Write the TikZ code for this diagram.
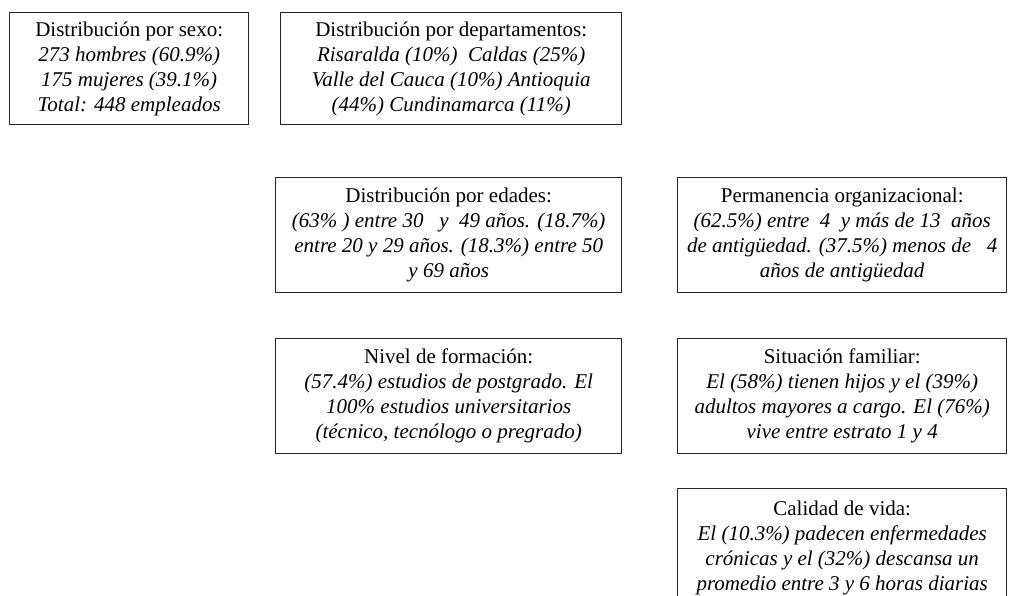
\documentclass[tikz,border=0pt]{standalone}
\usepackage{fontspec}
\setmainfont{Liberation Serif}
\begin{document}
\begin{tikzpicture}[x=1pt,y=-1pt,
  box/.style={draw=black!85,line width=1.4pt,inner sep=0pt,align=center,
    font=\fontsize{21}{25}\selectfont,anchor=north west}]
\useasboundingbox (0,0) rectangle (1009,596);
\node[box,minimum width=239pt,minimum height=112pt] (sexo) at (9,12)
  {Distribución por sexo:\\\itshape 273 hombres (60.9\%)\\\itshape 175 mujeres (39.1\%)\\\itshape Total: 448 empleados};
\node[box,minimum width=341pt,minimum height=112pt] (dep) at (280,12)
  {Distribución por departamentos:\\\itshape Risaralda (10\%)\ \ Caldas (25\%)\\\itshape Valle del Cauca (10\%) Antioquia\\\itshape (44\%) Cundinamarca (11\%)};
\node[box,minimum width=346pt,minimum height=115pt] (edad) at (275,177)
  {Distribución por edades:\\\itshape (63\% ) entre 30\ \ \ y\ \ 49 años. (18.7\%)\\\itshape entre 20 y 29 años. (18.3\%) entre 50\\\itshape y 69 años};
\node[box,minimum width=329pt,minimum height=115pt] (perm) at (677,177)
  {Permanencia organizacional:\\\itshape (62.5\%) entre\ \ 4\ \ y más de 13\ \ años\\\itshape de antigüedad. (37.5\%) menos de\ \ \ 4\\\itshape años de antigüedad};
\node[box,minimum width=346pt,minimum height=115pt] (form) at (275,338)
  {Nivel de formación:\\\itshape (57.4\%) estudios de postgrado. El\\\itshape 100\% estudios universitarios\\\itshape (técnico, tecnólogo o pregrado)};
\node[box,minimum width=329pt,minimum height=115pt] (fam) at (677,338)
  {Situación familiar:\\\itshape El (58\%) tienen hijos y el (39\%)\\\itshape adultos mayores a cargo. El (76\%)\\\itshape vive entre estrato 1 y 4};
\node[box,minimum width=329pt,minimum height=118pt] (cal) at (677,488)
  {Calidad de vida:\\\itshape El (10.3\%) padecen enfermedades\\\itshape crónicas y el (32\%) descansa un\\\itshape promedio entre 3 y 6 horas diarias};
\end{tikzpicture}
\end{document}
